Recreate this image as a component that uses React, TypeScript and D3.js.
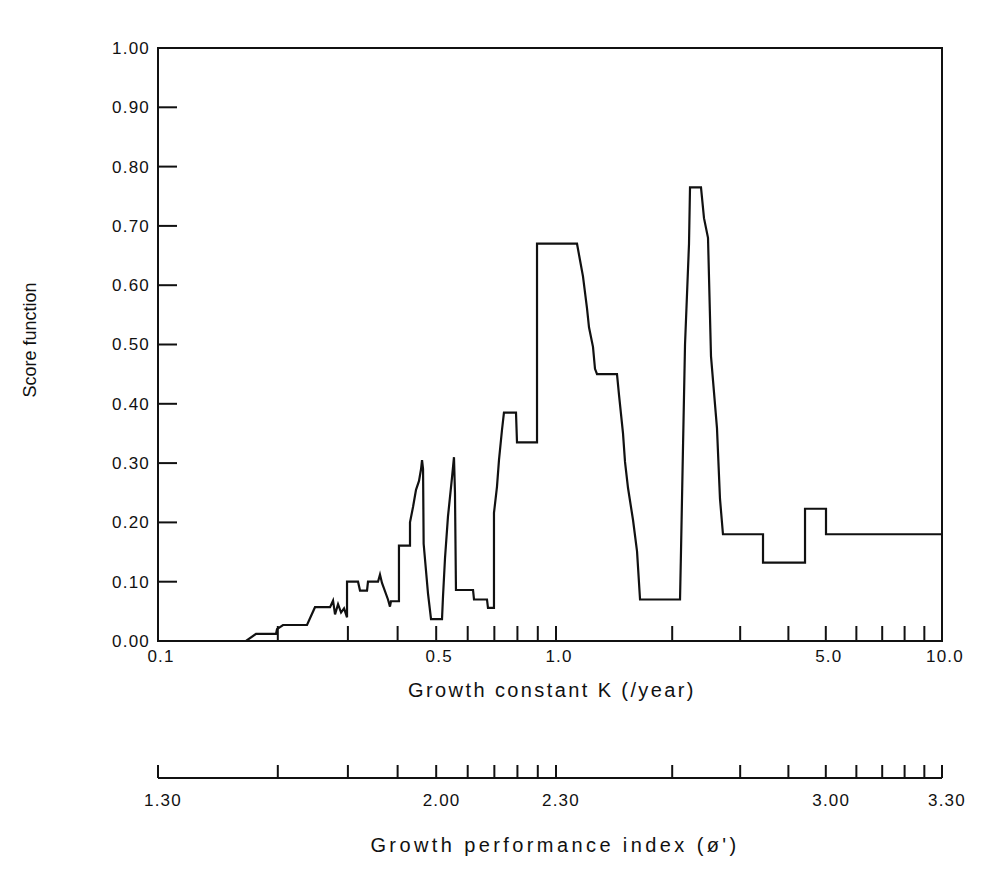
import React, { useEffect, useRef } from "react";
import * as d3 from "d3";

// score curve vertices (K in /year, score)
const kValues = [
  0.1, 0.1664, 0.1763, 0.1979, 0.1991, 0.2061, 0.2368, 0.248, 0.2706, 0.2753,
  0.2785, 0.2834, 0.2884, 0.2934, 0.2985, 0.2985, 0.3181, 0.3218, 0.3351, 0.337,
  0.3571, 0.3612, 0.3654, 0.3783, 0.3827, 0.3849, 0.4031, 0.4031, 0.4297, 0.4297,
  0.4373, 0.4449, 0.4527, 0.4581, 0.4607, 0.4634, 0.465, 0.4769, 0.4853, 0.5171,
  0.5201, 0.5262, 0.5353, 0.5478, 0.5542, 0.5574, 0.5606, 0.6188, 0.6223, 0.6708,
  0.6747, 0.6985, 0.6985, 0.7107, 0.719, 0.7314, 0.74, 0.7934, 0.798, 0.896,
  0.896, 1.1335, 1.1541, 1.1746, 1.2032, 1.2175, 1.2469, 1.2619, 1.2773, 1.4388,
  1.4562, 1.4914, 1.5093, 1.5367, 1.5832, 1.6216, 1.6509, 2.0956, 2.1081, 2.1334,
  2.159, 2.211, 2.2243, 2.3748, 2.4178, 2.4763, 2.521, 2.6124, 2.6596, 2.7074,
  3.438, 3.438, 4.417, 4.417, 5.006, 5.006, 10,
];
const scores = [
  0, 0, 0.012, 0.012, 0.02, 0.027, 0.027, 0.057, 0.057, 0.068,
  0.045, 0.062, 0.048, 0.055, 0.04, 0.1, 0.1, 0.085, 0.085, 0.1,
  0.1, 0.112, 0.098, 0.07, 0.058, 0.067, 0.067, 0.161, 0.161, 0.2,
  0.226, 0.255, 0.27, 0.29, 0.305, 0.29, 0.164, 0.08, 0.037, 0.037,
  0.075, 0.14, 0.21, 0.275, 0.31, 0.25, 0.086, 0.086, 0.07, 0.07,
  0.056, 0.056, 0.216, 0.26, 0.305, 0.355, 0.385, 0.385, 0.335, 0.335,
  0.67, 0.67, 0.642, 0.615, 0.561, 0.529, 0.496, 0.459, 0.45, 0.45,
  0.415, 0.35, 0.302, 0.258, 0.204, 0.151, 0.07, 0.07, 0.153, 0.329,
  0.5, 0.67, 0.765, 0.765, 0.713, 0.68, 0.48, 0.359, 0.24, 0.18,
  0.18, 0.132, 0.132, 0.223, 0.223, 0.18, 0.18,
];

const yTicks = [0, 0.1, 0.2, 0.3, 0.4, 0.5, 0.6, 0.7, 0.8, 0.9, 1.0];
const kMinorTicks = [0.2, 0.3, 0.4, 0.5, 0.6, 0.7, 0.8, 0.9, 1, 2, 3, 4, 5, 6, 7, 8, 9];
const kLabelValues = [0.1, 0.5, 1, 5, 10];
const kLabelText = ["0.1", "0.5", "1.0", "5.0", "10.0"];
const phiLabelValues = [1.3, 2.0, 2.3, 3.0, 3.3];
const phiLabelText = ["1.30", "2.00", "2.30", "3.00", "3.30"];

const FONT = "'Liberation Sans', Arial, sans-serif";

const App = () => {
  const svgRef = useRef(null);
  const width = 982;
  const height = 872;

  useEffect(() => {
    const left = 158;
    const right = 942;
    const top = 48;
    const bottom = 641;
    const phiAxisY = 778;

    const svg = d3.select(svgRef.current);
    svg.selectAll("*").remove();

    // the scan is slightly uneven between the two decades
    const x = d3.scaleLog().domain([0.1, 1, 10]).range([left, 556, right]);
    const y = d3.scaleLinear().domain([0, 1]).range([bottom, top]);
    const xPhi = d3.scaleLinear().domain([1.3, 2.3, 3.3]).range([left, 556, right]);

    const g = svg.append("g");

    // y ticks (inward)
    g.selectAll(".ytick")
      .data(yTicks)
      .join("line")
      .attr("x1", left)
      .attr("x2", left + 19)
      .attr("y1", (d) => y(d))
      .attr("y2", (d) => y(d))
      .attr("stroke", "#111")
      .attr("stroke-width", 2);

    g.selectAll(".ylab")
      .data(yTicks)
      .join("text")
      .attr("x", left - 8)
      .attr("y", (d) => y(d))
      .attr("dy", "0.35em")
      .attr("text-anchor", "end")
      .attr("font-family", FONT)
      .attr("font-size", 17)
      .attr("letter-spacing", 1.2)
      .attr("fill", "#111")
      .text((d) => d3.format(".2f")(d));

    // x ticks (inward from bottom)
    g.selectAll(".xtick")
      .data(kMinorTicks)
      .join("line")
      .attr("x1", (d) => x(d))
      .attr("x2", (d) => x(d))
      .attr("y1", bottom)
      .attr("y2", bottom - 15)
      .attr("stroke", "#111")
      .attr("stroke-width", 2);

    g.selectAll(".xlab")
      .data(kLabelValues)
      .join("text")
      .attr("x", (d) => x(d) + 3)
      .attr("y", bottom + 21)
      .attr("text-anchor", "middle")
      .attr("font-family", FONT)
      .attr("font-size", 17)
      .attr("letter-spacing", 1.2)
      .attr("fill", "#111")
      .text((d, i) => kLabelText[i]);

    // frame
    g.append("rect")
      .attr("x", left)
      .attr("y", top)
      .attr("width", right - left)
      .attr("height", bottom - top)
      .attr("fill", "none")
      .attr("stroke", "#111")
      .attr("stroke-width", 2);

    // score curve
    const pts = kValues.map((k, i) => [k, scores[i]]);
    const line = d3
      .line()
      .x((d) => x(d[0]))
      .y((d) => y(d[1]));
    g.append("path")
      .datum(pts)
      .attr("d", line)
      .attr("fill", "none")
      .attr("stroke", "#111")
      .attr("stroke-width", 2.2);

    // secondary growth performance axis
    g.append("line")
      .attr("x1", left)
      .attr("x2", right)
      .attr("y1", phiAxisY)
      .attr("y2", phiAxisY)
      .attr("stroke", "#111")
      .attr("stroke-width", 2);

    g.selectAll(".ptick")
      .data([0.1, ...kMinorTicks, 10])
      .join("line")
      .attr("x1", (d) => x(d))
      .attr("x2", (d) => x(d))
      .attr("y1", phiAxisY)
      .attr("y2", phiAxisY - 13)
      .attr("stroke", "#111")
      .attr("stroke-width", 2);

    g.selectAll(".plab")
      .data(phiLabelValues)
      .join("text")
      .attr("x", (d) => xPhi(d) + 5)
      .attr("y", phiAxisY + 28)
      .attr("text-anchor", "middle")
      .attr("font-family", FONT)
      .attr("font-size", 17)
      .attr("letter-spacing", 1.2)
      .attr("fill", "#111")
      .text((d, i) => phiLabelText[i]);

    // axis titles
    g.append("text")
      .attr("x", 552)
      .attr("y", 697)
      .attr("text-anchor", "middle")
      .attr("font-family", FONT)
      .attr("font-size", 20)
      .attr("letter-spacing", 2.4)
      .attr("fill", "#111")
      .text("Growth constant K (/year)");

    g.append("text")
      .attr("x", 555)
      .attr("y", 852)
      .attr("text-anchor", "middle")
      .attr("font-family", FONT)
      .attr("font-size", 20)
      .attr("letter-spacing", 3.4)
      .attr("fill", "#111")
      .text("Growth performance index (ø')");

    g.append("text")
      .attr("transform", `translate(36, 340) rotate(-90)`)
      .attr("text-anchor", "middle")
      .attr("font-family", FONT)
      .attr("font-size", 18)
      .attr("fill", "#111")
      .text("Score function");
  }, []);

  return (
    <svg
      ref={svgRef}
      width={width}
      height={height}
      style={{ position: "absolute", left: 0, top: 0, background: "#fff" }}
    ></svg>
  );
};

export default App;
